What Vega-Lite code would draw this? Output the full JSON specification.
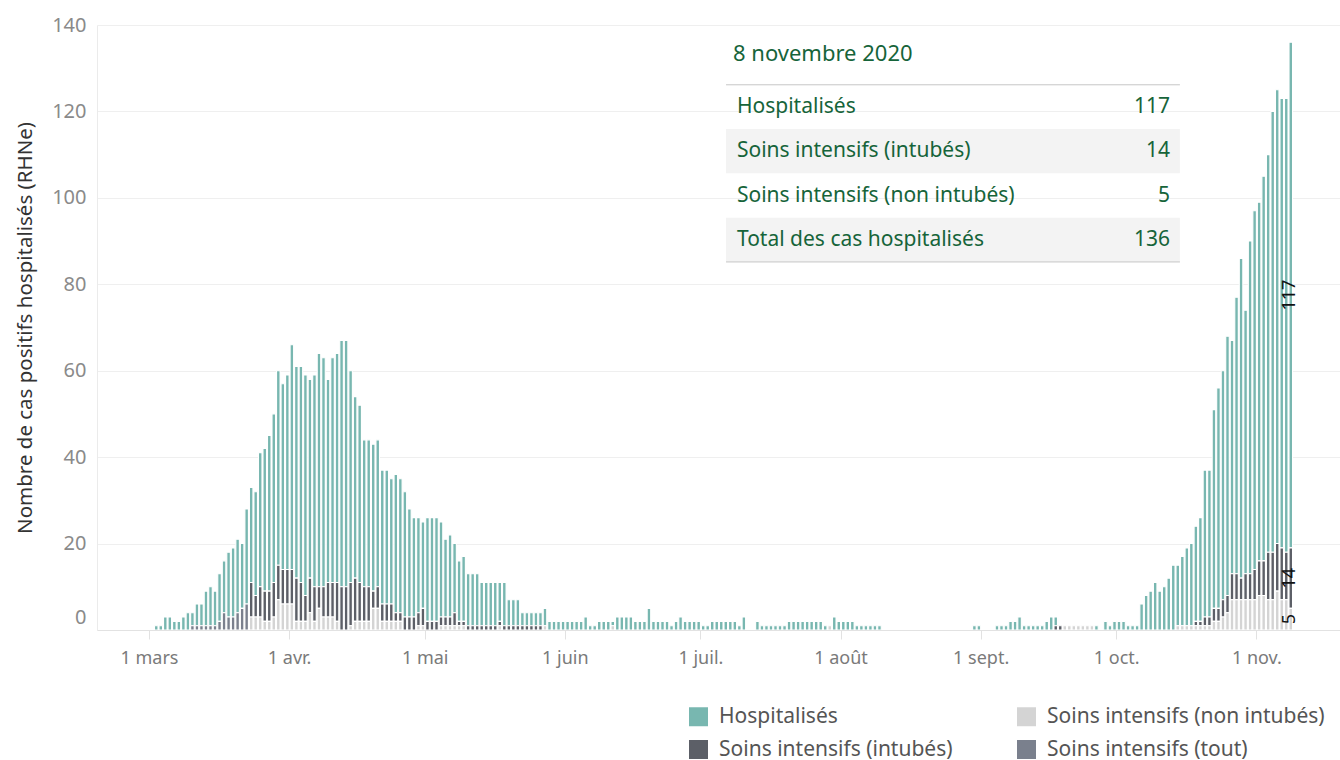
{
  "$schema": "https://vega.github.io/schema/vega-lite/v6.json",
  "width": 1243,
  "height": 605,
  "autosize": {"type": "none"},
  "padding": {"left": 97, "top": 25, "right": 0, "bottom": 130},
  "background": "white",
  "config": {"view": {"stroke": null}, "font": "Noto Sans"},
  "datasets": {
    "cas": [
      {"date":"2020-03-02","hosp":1},{"date":"2020-03-03","hosp":1},{"date":"2020-03-04","hosp":3},{"date":"2020-03-05","hosp":3},
      {"date":"2020-03-06","hosp":2},{"date":"2020-03-07","hosp":2},{"date":"2020-03-08","hosp":3},{"date":"2020-03-09","hosp":4},
      {"date":"2020-03-10","hosp":3,"tout":1},{"date":"2020-03-11","hosp":5,"tout":1},{"date":"2020-03-12","hosp":5,"tout":1},
      {"date":"2020-03-13","hosp":8,"tout":1},{"date":"2020-03-14","hosp":9,"tout":1},{"date":"2020-03-15","hosp":8,"tout":1},
      {"date":"2020-03-16","hosp":11,"tout":2},{"date":"2020-03-17","hosp":12,"tout":4},{"date":"2020-03-18","hosp":15,"tout":3},
      {"date":"2020-03-19","hosp":16,"tout":3},{"date":"2020-03-20","hosp":17,"tout":4},{"date":"2020-03-21","hosp":15,"tout":5},
      {"date":"2020-03-22","hosp":22,"tout":6},
      {"date":"2020-03-23","hosp":22,"intub":8,"nonintub":3},{"date":"2020-03-24","hosp":24,"intub":5,"nonintub":3},
      {"date":"2020-03-25","hosp":31,"intub":7,"nonintub":3},{"date":"2020-03-26","hosp":33,"intub":7,"nonintub":2},
      {"date":"2020-03-27","hosp":36,"intub":7,"nonintub":2},{"date":"2020-03-28","hosp":39,"intub":8,"nonintub":3},
      {"date":"2020-03-29","hosp":45,"intub":8,"nonintub":7},{"date":"2020-03-30","hosp":43,"intub":8,"nonintub":6},
      {"date":"2020-03-31","hosp":45,"intub":8,"nonintub":6},
      {"date":"2020-04-01","hosp":52,"intub":8,"nonintub":6},{"date":"2020-04-02","hosp":49,"intub":10,"nonintub":2},
      {"date":"2020-04-03","hosp":50,"intub":9,"nonintub":2},{"date":"2020-04-04","hosp":51,"intub":6,"nonintub":2},
      {"date":"2020-04-05","hosp":46,"intub":8,"nonintub":4},{"date":"2020-04-06","hosp":49,"intub":8,"nonintub":2},
      {"date":"2020-04-07","hosp":54,"intub":5,"nonintub":5},{"date":"2020-04-08","hosp":53,"intub":7,"nonintub":3},
      {"date":"2020-04-09","hosp":47,"intub":8,"nonintub":3},{"date":"2020-04-10","hosp":52,"intub":8,"nonintub":3},
      {"date":"2020-04-11","hosp":53,"intub":9,"nonintub":2},{"date":"2020-04-12","hosp":57,"intub":10},
      {"date":"2020-04-13","hosp":57,"intub":10},{"date":"2020-04-14","hosp":49,"intub":10,"nonintub":1},
      {"date":"2020-04-15","hosp":42,"intub":10,"nonintub":2},{"date":"2020-04-16","hosp":41,"intub":9,"nonintub":2},
      {"date":"2020-04-17","hosp":34,"intub":8,"nonintub":2},{"date":"2020-04-18","hosp":34,"intub":8,"nonintub":2},
      {"date":"2020-04-19","hosp":34,"intub":4,"nonintub":5},{"date":"2020-04-20","hosp":34,"intub":5,"nonintub":5},
      {"date":"2020-04-21","hosp":31,"intub":4,"nonintub":2},{"date":"2020-04-22","hosp":31,"intub":4,"nonintub":2},
      {"date":"2020-04-23","hosp":29,"intub":4,"nonintub":2},{"date":"2020-04-24","hosp":32,"intub":2,"nonintub":2},
      {"date":"2020-04-25","hosp":31,"intub":2,"nonintub":2},{"date":"2020-04-26","hosp":29,"intub":3},
      {"date":"2020-04-27","hosp":25,"intub":3},{"date":"2020-04-28","hosp":23,"intub":3},
      {"date":"2020-04-29","hosp":22,"intub":3,"nonintub":1},{"date":"2020-04-30","hosp":20,"intub":4,"nonintub":1},
      {"date":"2020-05-01","hosp":24,"intub":2},{"date":"2020-05-02","hosp":24,"intub":2},{"date":"2020-05-03","hosp":24,"intub":2},
      {"date":"2020-05-04","hosp":22,"intub":2,"nonintub":1},{"date":"2020-05-05","hosp":18,"intub":2,"nonintub":1},
      {"date":"2020-05-06","hosp":19,"intub":2,"nonintub":1},{"date":"2020-05-07","hosp":16,"intub":3,"nonintub":1},
      {"date":"2020-05-08","hosp":14,"intub":1,"nonintub":1},{"date":"2020-05-09","hosp":15,"intub":1,"nonintub":1},
      {"date":"2020-05-10","hosp":12,"intub":1},{"date":"2020-05-11","hosp":12,"intub":1},{"date":"2020-05-12","hosp":12,"intub":1},
      {"date":"2020-05-13","hosp":10,"intub":1},{"date":"2020-05-14","hosp":10,"intub":1},{"date":"2020-05-15","hosp":10,"intub":1},
      {"date":"2020-05-16","hosp":10,"intub":1},{"date":"2020-05-17","hosp":9,"intub":1,"nonintub":1},{"date":"2020-05-18","hosp":10,"intub":1},
      {"date":"2020-05-19","hosp":6,"intub":1},{"date":"2020-05-20","hosp":6,"intub":1},{"date":"2020-05-21","hosp":6,"intub":1},
      {"date":"2020-05-22","hosp":3,"intub":1},{"date":"2020-05-23","hosp":3,"intub":1},{"date":"2020-05-24","hosp":3,"intub":1},
      {"date":"2020-05-25","hosp":3,"intub":1},{"date":"2020-05-26","hosp":3,"intub":1},{"date":"2020-05-27","hosp":4,"nonintub":1},
      {"date":"2020-05-28","hosp":2},{"date":"2020-05-29","hosp":2},{"date":"2020-05-30","hosp":2},{"date":"2020-05-31","hosp":2},
      {"date":"2020-06-01","hosp":2},{"date":"2020-06-02","hosp":2},{"date":"2020-06-03","hosp":2},{"date":"2020-06-04","hosp":2},
      {"date":"2020-06-05","hosp":3},{"date":"2020-06-06","hosp":1},{"date":"2020-06-07","hosp":1},{"date":"2020-06-08","hosp":2},
      {"date":"2020-06-09","hosp":2},{"date":"2020-06-10","hosp":2},{"date":"2020-06-11","hosp":1,"nonintub":1},
      {"date":"2020-06-12","hosp":3},{"date":"2020-06-13","hosp":3},{"date":"2020-06-14","hosp":3},{"date":"2020-06-15","hosp":3},
      {"date":"2020-06-16","hosp":2},{"date":"2020-06-17","hosp":2},{"date":"2020-06-18","hosp":2},{"date":"2020-06-19","hosp":5},
      {"date":"2020-06-20","hosp":2},{"date":"2020-06-21","hosp":2},{"date":"2020-06-22","hosp":2},{"date":"2020-06-23","hosp":2},
      {"date":"2020-06-24","hosp":1},{"date":"2020-06-25","hosp":2},{"date":"2020-06-26","hosp":3},{"date":"2020-06-27","hosp":2},
      {"date":"2020-06-28","hosp":2},{"date":"2020-06-29","hosp":2},{"date":"2020-06-30","hosp":2},
      {"date":"2020-07-01","hosp":1},{"date":"2020-07-02","hosp":1},{"date":"2020-07-03","hosp":2},{"date":"2020-07-04","hosp":2},
      {"date":"2020-07-05","hosp":2},{"date":"2020-07-06","hosp":2},{"date":"2020-07-07","hosp":2},{"date":"2020-07-08","hosp":2},
      {"date":"2020-07-09","hosp":1},{"date":"2020-07-10","hosp":3},{"date":"2020-07-13","hosp":2},
      {"date":"2020-07-14","hosp":1},{"date":"2020-07-15","hosp":1},{"date":"2020-07-16","hosp":1},{"date":"2020-07-17","hosp":1},
      {"date":"2020-07-18","hosp":1},{"date":"2020-07-19","hosp":1},{"date":"2020-07-20","hosp":2},{"date":"2020-07-21","hosp":2},
      {"date":"2020-07-22","hosp":2},{"date":"2020-07-23","hosp":2},{"date":"2020-07-24","hosp":2},{"date":"2020-07-25","hosp":2},
      {"date":"2020-07-26","hosp":2},{"date":"2020-07-27","hosp":2},{"date":"2020-07-28","hosp":1},{"date":"2020-07-29","nonintub":1},
      {"date":"2020-07-30","hosp":3},{"date":"2020-07-31","hosp":2},
      {"date":"2020-08-01","hosp":2},{"date":"2020-08-02","hosp":2},{"date":"2020-08-03","hosp":2},{"date":"2020-08-04","hosp":1},
      {"date":"2020-08-05","hosp":1},{"date":"2020-08-06","hosp":1},{"date":"2020-08-07","hosp":1},{"date":"2020-08-08","hosp":1},
      {"date":"2020-08-09","hosp":1},{"date":"2020-08-30","hosp":1},{"date":"2020-08-31","hosp":1},
      {"date":"2020-09-04","hosp":1},{"date":"2020-09-05","hosp":1},{"date":"2020-09-06","hosp":1},{"date":"2020-09-07","hosp":2},
      {"date":"2020-09-08","hosp":2},{"date":"2020-09-09","hosp":3},{"date":"2020-09-10","hosp":1},{"date":"2020-09-11","hosp":1},
      {"date":"2020-09-12","hosp":1},{"date":"2020-09-13","hosp":1},{"date":"2020-09-14","hosp":1},{"date":"2020-09-15","hosp":2},
      {"date":"2020-09-16","hosp":3},{"date":"2020-09-17","hosp":2,"intub":1},{"date":"2020-09-18","intub":1},
      {"date":"2020-09-19","nonintub":1},{"date":"2020-09-20","nonintub":1},{"date":"2020-09-21","nonintub":1},
      {"date":"2020-09-22","nonintub":1},{"date":"2020-09-23","nonintub":1},{"date":"2020-09-24","nonintub":1},
      {"date":"2020-09-25","nonintub":1},{"date":"2020-09-26","hosp":1},{"date":"2020-09-28","hosp":2},{"date":"2020-09-29","hosp":1},
      {"date":"2020-09-30","hosp":2},
      {"date":"2020-10-01","hosp":2},{"date":"2020-10-02","hosp":2},{"date":"2020-10-03","hosp":1},{"date":"2020-10-04","hosp":1},
      {"date":"2020-10-05","hosp":1},{"date":"2020-10-06","hosp":6},{"date":"2020-10-07","hosp":8},{"date":"2020-10-08","hosp":9},
      {"date":"2020-10-09","hosp":11},{"date":"2020-10-10","hosp":9},{"date":"2020-10-11","hosp":10},{"date":"2020-10-12","hosp":12},
      {"date":"2020-10-13","hosp":15},{"date":"2020-10-14","hosp":14,"nonintub":1},{"date":"2020-10-15","hosp":16,"nonintub":1},
      {"date":"2020-10-16","hosp":18,"nonintub":1},{"date":"2020-10-17","hosp":19,"nonintub":1},
      {"date":"2020-10-18","hosp":22,"intub":1,"nonintub":1},{"date":"2020-10-19","hosp":24,"intub":1,"nonintub":1},
      {"date":"2020-10-20","hosp":34,"intub":2,"nonintub":1},{"date":"2020-10-21","hosp":34,"intub":2,"nonintub":1},
      {"date":"2020-10-22","hosp":46,"intub":3,"nonintub":2},{"date":"2020-10-23","hosp":51,"intub":3,"nonintub":2},
      {"date":"2020-10-24","hosp":53,"intub":4,"nonintub":3},{"date":"2020-10-25","hosp":60,"intub":4,"nonintub":4},
      {"date":"2020-10-26","hosp":54,"intub":6,"nonintub":7},{"date":"2020-10-27","hosp":64,"intub":6,"nonintub":7},
      {"date":"2020-10-28","hosp":74,"intub":5,"nonintub":7},{"date":"2020-10-29","hosp":61,"intub":6,"nonintub":7},
      {"date":"2020-10-30","hosp":77,"intub":6,"nonintub":7},{"date":"2020-10-31","hosp":83,"intub":7,"nonintub":7},
      {"date":"2020-11-01","hosp":83,"intub":8,"nonintub":8},{"date":"2020-11-02","hosp":89,"intub":8,"nonintub":8},
      {"date":"2020-11-03","hosp":92,"intub":11,"nonintub":7},{"date":"2020-11-04","hosp":102,"intub":11,"nonintub":7},
      {"date":"2020-11-05","hosp":105,"intub":11,"nonintub":9},{"date":"2020-11-06","hosp":104,"intub":12,"nonintub":7},
      {"date":"2020-11-07","hosp":105,"intub":11,"nonintub":7},{"date":"2020-11-08","hosp":117,"intub":14,"nonintub":5}
    ],
    "tableau": [
      {"libelle": "Hospitalisés", "valeur": 117, "rang": 1},
      {"libelle": "Soins intensifs (intubés)", "valeur": 14, "rang": 2},
      {"libelle": "Soins intensifs (non intubés)", "valeur": 5, "rang": 3},
      {"libelle": "Total des cas hospitalisés", "valeur": 136, "rang": 4}
    ]
  },
  "layer": [
    {
      "data": {"name": "cas"},
      "transform": [
        {"fold": ["hosp", "intub", "nonintub", "tout"], "as": ["serie", "valeur"]},
        {"filter": "isValid(datum.valeur) && datum.valeur > 0"}
      ],
      "layer": [
        {
          "mark": {"type": "bar", "stroke": "white", "strokeWidth": 1.1},
          "encoding": {
            "x": {
              "field": "date", "timeUnit": "utcyearmonthdate", "type": "temporal", "title": null,
              "scale": {"type": "utc", "domain": [
                {"year": 2020, "month": 2, "date": 18, "hours": 12, "utc": true},
                {"year": 2020, "month": 11, "date": 19, "hours": 12, "utc": true}
              ]},
              "axis": {
                "tickCount": {"interval": "month", "step": 1},
                "labelExpr": "'1 ' + ['janv.','févr.','mars','avr.','mai','juin','juil.','août','sept.','oct.','nov.','déc.'][utcmonth(datum.value)]",
                "grid": false,
                "domainColor": "#e2e2e2",
                "tickColor": "#e2e2e2",
                "tickSize": 9,
                "labelFontSize": 18,
                "labelColor": "#7a7a7a",
                "labelFont": "Noto Sans",
                "labelPadding": 10,
                "labelFlush": false,
                "labelOverlap": false,
                "zindex": 1
              }
            },
            "y": {
              "field": "valeur", "type": "quantitative", "stack": "zero",
              "title": "Nombre de cas positifs hospitalisés (RHNe)",
              "scale": {"domain": [0, 140], "nice": false},
              "axis": {
                "values": [0, 20, 40, 60, 80, 100, 120, 140],
                "grid": true,
                "gridColor": "#efefef",
                "domainColor": "#ebebeb",
                "ticks": false,
                "labelFontSize": 20,
                "labelColor": "#8a8a8a",
                "labelFont": "Noto Sans",
                "labelPadding": 11,
                "labelOffset": {"condition": {"test": "datum.value === 0", "value": -13}, "value": 0},
                "titleFontSize": 20.5,
                "titleFont": "Noto Sans",
                "titleFontWeight": "normal",
                "titleColor": "#333333",
                "titlePadding": 16
              }
            },
            "color": {
              "field": "serie", "type": "nominal",
              "scale": {
                "domain": ["hosp", "intub", "nonintub", "tout"],
                "range": ["#78b7b0", "#5c5f67", "#d4d4d4", "#7a808d"]
              },
              "legend": {
                "orient": "none",
                "legendX": 591,
                "legendY": 681,
                "columns": 2,
                "title": null,
                "symbolType": "square",
                "symbolSize": 361,
                "symbolStrokeWidth": 0,
                "symbolOpacity": 1,
                "labelFontSize": 21,
                "labelFont": "Noto Sans",
                "labelColor": "#555555",
                "labelOffset": 10,
                "columnPadding": 63,
                "rowPadding": 11,
                "labelLimit": 400,
                "labelExpr": "datum.label == 'hosp' ? 'Hospitalisés' : datum.label == 'intub' ? 'Soins intensifs (intubés)' : datum.label == 'nonintub' ? 'Soins intensifs (non intubés)' : 'Soins intensifs (tout)'"
              }
            },
            "order": {"field": "serie", "sort": "descending"}
          }
        },
        {
          "transform": [
            {"filter": "utcmonth(datum.date) == 10 && utcdate(datum.date) == 8"},
            {"stack": "valeur", "groupby": ["date"], "sort": [{"field": "serie", "order": "descending"}], "as": ["bas", "haut"]},
            {"calculate": "(datum.bas + datum.haut) / 2", "as": "milieu"}
          ],
          "mark": {"type": "text", "angle": 270, "fontSize": 18, "font": "Noto Sans", "color": "#111111"},
          "encoding": {
            "x": {"field": "date", "timeUnit": "utcyearmonthdate", "type": "temporal", "bandPosition": 0.5},
            "y": {"field": "milieu", "type": "quantitative"},
            "text": {"field": "valeur", "type": "quantitative"}
          }
        }
      ]
    },
    {
      "data": {"name": "tableau"},
      "transform": [
        {"calculate": "datum.rang - 0.5", "as": "haut"},
        {"calculate": "datum.rang + 0.5", "as": "bas"}
      ],
      "layer": [
        {
          "transform": [{"filter": "datum.rang % 2 == 0"}],
          "mark": {"type": "rect", "color": "#f3f3f3"},
          "encoding": {
            "x": {"datum": {"year": 2020, "month": 7, "date": 6, "hours": 16, "utc": true}, "type": "temporal"},
            "x2": {"datum": {"year": 2020, "month": 10, "date": 15, "hours": 2, "utc": true}},
            "y": {"field": "haut", "type": "quantitative", "axis": null, "scale": {"domain": [-0.85, 12.81], "reverse": true, "nice": false, "zero": false}},
            "y2": {"field": "bas"}
          }
        },
        {
          "transform": [{"filter": "datum.rang == 1"}],
          "mark": {"type": "rule", "color": "#c6c6c6", "strokeWidth": 1},
          "encoding": {
            "x": {"datum": {"year": 2020, "month": 7, "date": 6, "hours": 16, "utc": true}, "type": "temporal"},
            "x2": {"datum": {"year": 2020, "month": 10, "date": 15, "hours": 2, "utc": true}},
            "y": {"field": "haut", "type": "quantitative", "axis": null}
          }
        },
        {
          "transform": [{"filter": "datum.rang == 4"}],
          "mark": {"type": "rule", "color": "#c6c6c6", "strokeWidth": 1},
          "encoding": {
            "x": {"datum": {"year": 2020, "month": 7, "date": 6, "hours": 16, "utc": true}, "type": "temporal"},
            "x2": {"datum": {"year": 2020, "month": 10, "date": 15, "hours": 2, "utc": true}},
            "y": {"field": "bas", "type": "quantitative", "axis": null}
          }
        },
        {
          "mark": {"type": "text", "align": "left", "baseline": "middle", "fontSize": 21, "font": "Noto Sans", "color": "#16643a"},
          "encoding": {
            "x": {"datum": {"year": 2020, "month": 7, "date": 9, "hours": 2, "utc": true}, "type": "temporal"},
            "y": {"field": "rang", "type": "quantitative", "axis": null},
            "text": {"field": "libelle"}
          }
        },
        {
          "mark": {"type": "text", "align": "right", "baseline": "middle", "fontSize": 21, "font": "Noto Sans", "color": "#16643a"},
          "encoding": {
            "x": {"datum": {"year": 2020, "month": 10, "date": 12, "hours": 22, "utc": true}, "type": "temporal"},
            "y": {"field": "rang", "type": "quantitative", "axis": null},
            "text": {"field": "valeur", "type": "quantitative"}
          }
        },
        {
          "transform": [{"filter": "datum.rang == 1"}],
          "mark": {"type": "text", "align": "left", "baseline": "middle", "fontSize": 22, "font": "Noto Sans", "color": "#16643a", "text": "8 novembre 2020"},
          "encoding": {
            "x": {"datum": {"year": 2020, "month": 7, "date": 8, "hours": 5, "utc": true}, "type": "temporal"},
            "y": {"datum": -0.2, "type": "quantitative", "axis": null}
          }
        }
      ]
    }
  ],
  "resolve": {"scale": {"y": "independent"}}
}
